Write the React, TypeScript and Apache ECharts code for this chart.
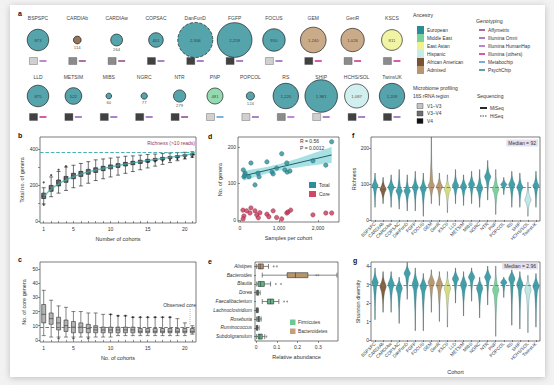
import React, { useEffect, useRef } from 'react';
import * as echarts from 'echarts';

const FONT = '"Liberation Sans", Arial, sans-serif';

// ---------- Panel a ----------
const row1Cohorts = ['BSPSPC', 'CARDIAb', 'CARDIAw', 'COPSAC', 'DanFunD', 'FGFP', 'FOCUS', 'GEM', 'GenR', 'KSCS'];
const row1N = [873, 114, 264, 401, 2306, 2259, 950, 1240, 1026, 811];
const row1Anc = [0, 4, 0, 0, 0, 0, 0, 5, 5, 2];
const row1Region = [0, 1, 1, 2, 2, 2, 0, 2, 1, 1];
const row1Geno = [2, 0, 0, 1, 1, 1, 1, 3, 3, 3];
const row1Seq = [0, 0, 0, 0, 1, 0, 0, 0, 0, 0];

const row2Cohorts = ['LLD', 'METSIM', 'MIBS', 'NGRC', 'NTR', 'PNP', 'POPCOL', 'RS', 'SHIP', 'HCHS/SOL', 'TwinsUK'];
const row2N = [875, 522, 60, 77, 279, 481, 124, 1220, 1981, 1087, 1209];
const row2Anc = [0, 0, 0, 0, 0, 1, 0, 0, 0, 3, 0];
const row2Region = [2, 2, 2, 2, 2, 0, 0, 1, 0, 2, 2];
const row2Geno = [3, 1, 1, 1, 0, 4, 1, 2, 1, 1, 1];
const row2Seq = [0, 0, 0, 0, 0, 0, 0, 0, 0, 0, 0];

const ancestryNames = ['European', 'Middle East', 'East Asian', 'Hispanic', 'African American', 'Admixed'];
const ancestryColors = ['#2a8c96', '#79d19c', '#eef28c', '#c6ebea', '#7a5332', '#bb956b'];
const genoNames = ['Affymetrix', 'Illumina Omni', 'Illumina HumanHap', 'Illumina (others)', 'Metabochip', 'PsychChip'];
const genoColors = ['#8d3a7e', '#8b52b5', '#a65dc4', '#c81e8c', '#4b93cc', '#2f7f8c'];
const regionNames = ['V1–V3', 'V3–V4', 'V4'];
const regionColors = ['#c4c4c4', '#6e6e6e', '#111111'];
const seqNames = ['MiSeq', 'HiSeq'];

// ---------- Panel b ----------
const bCats = ['1', '2', '3', '4', '5', '6', '7', '8', '9', '10', '11', '12', '13', '14', '15', '16', '17', '18', '19', '20', '21'];
const bBoxes = [
  [95, 125, 138, 155, 185], [135, 165, 180, 198, 245], [155, 195, 210, 228, 275], [170, 215, 232, 248, 300],
  [185, 235, 250, 265, 310], [195, 248, 262, 276, 320], [210, 260, 273, 287, 330], [225, 270, 283, 296, 340],
  [235, 280, 292, 304, 345], [245, 290, 301, 312, 350], [255, 298, 309, 319, 355], [265, 306, 316, 326, 360],
  [275, 313, 322, 332, 362], [285, 320, 329, 338, 366], [295, 327, 335, 343, 370], [305, 334, 341, 348, 372],
  [315, 340, 347, 354, 375], [325, 347, 353, 359, 378], [335, 353, 358, 364, 380], [345, 360, 364, 369, 382],
  [355, 366, 370, 374, 385],
];
const bOutliers = [[0, 215], [0, 90], [1, 255], [2, 285], [3, 305], [14, 328], [15, 332], [16, 336], [17, 340], [18, 345], [19, 350], [20, 356]];
const bCurve = [135, 178, 207, 229, 247, 261, 273, 283, 292, 301, 309, 316, 323, 330, 336, 342, 348, 354, 360, 366, 372];
const bBandHalf = [9, 8, 7, 6, 6, 5, 5, 5, 5, 5, 4, 4, 4, 4, 4, 4, 4, 4, 4, 4, 4];
const bRichness = 385;

// ---------- Panel c ----------
const cBoxes = [
  [3, 12, 18, 25, 35], [2, 11, 15, 19, 28], [2, 7, 12, 16, 24], [2, 6, 10, 14, 23], [2, 5, 9, 13, 20],
  [2, 5, 9, 12, 20], [2, 5, 8, 11, 19], [2, 5, 7, 10, 19], [2, 5, 7, 9, 18], [2, 5, 7, 9, 18],
  [3, 5, 7, 9, 17], [3, 5, 7, 9, 17], [3, 5, 7, 9, 16], [3, 5, 6, 8, 16], [3, 5, 6, 8, 16],
  [3, 5, 6, 8, 16], [3, 5, 6, 8, 16], [3, 5, 6, 8, 16], [3, 5, 6, 8, 15], [3, 5, 6, 8, 12], [4, 5, 6, 8, 10],
];
const cOutliers = [[9, 18], [10, 17], [11, 17], [12, 16], [13, 16], [14, 16], [15, 16], [16, 16], [17, 16], [2, 1], [4, 1], [6, 1]];
const cObserved = 9;

// ---------- Panel d ----------
const dSamples = [85, 130, 100, 230, 280, 385, 460, 490, 690, 820, 850, 940, 1070, 1150, 1200, 1210, 1280, 1870, 2200, 2350, 120];
const dTotal = [137, 128, 118, 118, 156, 96, 128, 118, 159, 131, 126, 142, 181, 137, 156, 131, 134, 162, 150, 214, 122];
const dCoreSamples = [75, 100, 80, 170, 255, 280, 385, 430, 510, 470, 690, 740, 850, 940, 1070, 1200, 1230, 1300, 1870, 2200, 2350];
const dCore = [27, 11, 3, 25, 19, 33, 25, 14, 20, 6, 16, 9, 25, 7, 3, 19, 22, 27, 14, 19, 19];

// ---------- Panel e ----------
const eGenera = ['Alistipes', 'Bacteroides', 'Blautia', 'Dorea', 'Faecalibacterium', 'Lachnoclostridium', 'Roseburia', 'Ruminococcus', 'Subdoligranulum'];
const ePhylum = [1, 1, 0, 0, 0, 0, 0, 0, 0];
const eBoxes = [
  [0.002, 0.01, 0.02, 0.035, 0.06], [0.03, 0.15, 0.19, 0.25, 0.39], [0.003, 0.01, 0.022, 0.04, 0.07],
  [0.001, 0.004, 0.008, 0.012, 0.02], [0.03, 0.055, 0.07, 0.085, 0.11], [0.001, 0.003, 0.005, 0.008, 0.012],
  [0.002, 0.008, 0.012, 0.018, 0.025], [0.001, 0.003, 0.005, 0.008, 0.015], [0.002, 0.01, 0.018, 0.03, 0.042],
];
const eOutliers = [[0.085, 0], [0.1, 0], [0.29, 1], [0.3, 1], [0.095, 2], [0.12, 2], [0.135, 4], [0.15, 4], [0.05, 8]];
const phylumNames = ['Firmicutes', 'Bacteroidetes'];
const phylumColors = ['#6cc893', '#c4a07a'];
const eBoxColors = ['#5bb986', '#b8946c'];

// ---------- Panels f, g ----------
const cohorts = [...row1Cohorts, ...row2Cohorts];
const cohortAnc = [...row1Anc, ...row2Anc];
const richMin = [35, 45, 35, 30, 25, 25, 10, 45, 40, 20, 45, 40, 45, 35, 55, 15, 70, 35, 35, 10, 35];
const richQ1 = [85, 75, 80, 70, 70, 80, 76, 84, 82, 74, 85, 82, 88, 76, 108, 72, 92, 86, 80, 45, 85];
const richMed = [95, 85, 90, 80, 80, 90, 88, 95, 92, 85, 95, 92, 98, 88, 120, 85, 98, 98, 90, 55, 95];
const richQ3 = [104, 95, 100, 90, 90, 100, 98, 105, 102, 96, 105, 102, 108, 100, 130, 98, 104, 108, 100, 68, 104];
const richMax = [130, 118, 125, 140, 125, 135, 130, 230, 130, 125, 140, 125, 135, 140, 165, 140, 118, 135, 130, 105, 135];
const richMedian = 92;

const shanMin = [1.1, 1.5, 1.5, 0.9, 2.2, 0.5, 0.5, 1.5, 1.0, 0.7, 2.0, 1.3, 2.1, 1.2, 1.9, 0.2, 2.3, 0.8, 0.6, 0.4, 0.7];
const shanQ1 = [2.85, 2.6, 2.75, 2.5, 3.4, 2.7, 2.6, 2.85, 2.7, 2.5, 3.1, 2.7, 3.2, 2.5, 3.2, 2.4, 3.0, 3.05, 2.7, 2.4, 2.65];
const shanMed = [3.1, 2.9, 3.0, 2.8, 3.6, 3.0, 2.9, 3.1, 3.0, 2.8, 3.3, 3.0, 3.4, 2.8, 3.4, 2.7, 3.1, 3.3, 3.0, 2.7, 2.9];
const shanQ3 = [3.35, 3.15, 3.25, 3.05, 3.8, 3.3, 3.15, 3.35, 3.25, 3.05, 3.5, 3.25, 3.6, 3.05, 3.6, 3.0, 3.25, 3.55, 3.25, 3.0, 3.15];
const shanMax = [3.9, 3.7, 3.7, 3.4, 4.2, 3.9, 3.6, 3.8, 3.7, 3.7, 3.9, 3.7, 3.9, 3.4, 4.0, 4.0, 3.4, 3.8, 3.7, 3.5, 3.6];
const shanMedian = 2.96;

const violinFill = ['#3a9ca6', '#79d19c', '#d8dc7c', '#bfe6e6', '#7d5a3a', '#b8956b'];

function buildOption() {
  const tick = { show: true, length: 2, lineStyle: { color: '#444', width: 0.6 } };
  const lab = { fontSize: 5, color: '#333', margin: 2, fontFamily: FONT };
  const nameTS = { fontSize: 5.5, color: '#333', fontFamily: FONT };
  const frame = (left: number, top: number, width: number, height: number) => ({
    left, top, width, height, show: true, borderColor: '#444', borderWidth: 0.7, backgroundColor: 'transparent',
  });

  const grids = [
    { left: 18.3, top: 40, width: 393.3, height: 21, show: false },
    { left: 20.3, top: 96, width: 389.4, height: 21, show: false },
    frame(40, 137, 156, 86),
    frame(40, 262, 156, 80),
    frame(238, 137, 101, 85),
    frame(255, 262, 83, 79),
    frame(371, 137, 169, 84),
    frame(371, 262, 169, 79),
  ];

  const catX = (gi: number, data: string[], extra: any = {}) => ({
    type: 'category', gridIndex: gi, data, boundaryGap: true,
    axisLine: { show: false }, splitLine: { show: false },
    axisTick: { ...tick, alignWithLabel: true, interval: 0 },
    axisLabel: { ...lab, margin: 3 },
    ...extra,
  });
  const valAxis = (gi: number, min: number, max: number, labels: number[], ticks: number[], extra: any = {}) => ({
    type: 'value', gridIndex: gi, min, max,
    axisLine: { show: false }, splitLine: { show: false },
    axisTick: { ...tick, customValues: ticks },
    axisLabel: { ...lab, customValues: labels },
    ...extra,
  });

  const xAxes: any[] = [
    { type: 'category', gridIndex: 0, data: row1Cohorts, position: 'top', axisLine: { show: false }, axisTick: { show: false }, axisLabel: { fontSize: 5, color: '#444', margin: 20, interval: 0 } },
    { type: 'category', gridIndex: 1, data: row2Cohorts, position: 'top', axisLine: { show: false }, axisTick: { show: false }, axisLabel: { fontSize: 5, color: '#444', margin: 17, interval: 0 } },
    catX(2, bCats, { axisLabel: { ...lab, margin: 3, interval: (i: number) => i === 0 || (i + 1) % 5 === 0 }, name: 'Number of cohorts', nameLocation: 'middle', nameGap: 13, nameTextStyle: nameTS }),
    catX(3, bCats, { axisLabel: { ...lab, margin: 3, interval: (i: number) => i === 0 || (i + 1) % 5 === 0 }, name: 'No. of cohorts', nameLocation: 'middle', nameGap: 13, nameTextStyle: nameTS }),
    valAxis(4, -51, 2538, [0, 1000, 2000], [0, 1000, 2000], { axisLabel: { ...lab, margin: 3, customValues: [0, 1000, 2000], formatter: (v: number) => v.toLocaleString('en-US') }, name: 'Samples per cohort', nameLocation: 'middle', nameGap: 13, nameTextStyle: nameTS }),
    valAxis(5, -0.005, 0.395, [0, 0.1, 0.2, 0.3], [0, 0.1, 0.2, 0.3], { axisLabel: { ...lab, margin: 3, customValues: [0, 0.1, 0.2, 0.3] }, name: 'Relative abundance', nameLocation: 'middle', nameGap: 13, nameTextStyle: nameTS }),
    catX(6, cohorts, { axisLabel: { ...lab, fontSize: 4.6, rotate: 45, interval: 0, margin: 2 } }),
    catX(7, cohorts, { axisLabel: { ...lab, fontSize: 4.6, rotate: 45, interval: 0, margin: 2 }, name: 'Cohort', nameLocation: 'middle', nameGap: 28, nameTextStyle: nameTS }),
  ];
  const yAxes: any[] = [
    { type: 'value', gridIndex: 0, min: 0, max: 1, show: false },
    { type: 'value', gridIndex: 1, min: 0, max: 1, show: false },
    valAxis(2, -11, 467, [0, 200, 400], [0, 100, 200, 300, 400], { name: 'Total no. of genera', nameLocation: 'middle', nameGap: 15, nameTextStyle: nameTS }),
    valAxis(3, -1.5, 55, [0, 10, 20, 30, 40, 50], [0, 10, 20, 30, 40, 50], { name: 'No. of core genera', nameLocation: 'middle', nameGap: 13, nameTextStyle: nameTS }),
    valAxis(4, -5.5, 227, [0, 100, 200], [0, 100, 200], { name: 'No. of genera', nameLocation: 'middle', nameGap: 15, nameTextStyle: nameTS }),
    { type: 'category', gridIndex: 5, data: eGenera, inverse: true, axisLine: { show: false }, axisTick: { ...tick, alignWithLabel: true, interval: 0 }, axisLabel: { ...lab, fontStyle: 'italic', fontSize: 4.8, margin: 3, interval: 0 } },
    valAxis(6, -3, 230, [0, 100, 200], [0, 100, 200], { name: 'Richness', nameLocation: 'middle', nameGap: 14, nameTextStyle: nameTS }),
    valAxis(7, -0.05, 4.22, [0, 1, 2, 3, 4], [0, 1, 2, 3, 4], { name: 'Shannon diversity', nameLocation: 'middle', nameGap: 10, nameTextStyle: nameTS }),
  ];

  const series: any[] = [];

  // Panel a circles and icons
  const rows = [
    { gi: 0, names: row1Cohorts, n: row1N, anc: row1Anc, reg: row1Region, geno: row1Geno, seq: row1Seq },
    { gi: 1, names: row2Cohorts, n: row2N, anc: row2Anc, reg: row2Region, geno: row2Geno, seq: row2Seq },
  ];
  rows.forEach((r) => {
    series.push({
      type: 'scatter', xAxisIndex: r.gi, yAxisIndex: r.gi, clip: false, z: 3,
      data: r.n.map((n, i) => ({
        value: [i, 1], n,
        symbolSize: 0.73 * Math.sqrt(n),
        itemStyle: { color: ancestryColors[r.anc[i]], borderColor: '#111', borderWidth: 0.8, borderType: r.seq[i] === 1 ? 'dashed' : 'solid' },
        label: { show: true, position: n < 350 ? 'bottom' : 'inside', distance: 1, fontSize: 4.3, color: '#222', formatter: () => n.toLocaleString('en-US') },
      })),
    });
    series.push({
      type: 'scatter', xAxisIndex: r.gi, yAxisIndex: r.gi, clip: false, symbol: 'rect', symbolSize: [8, 7], symbolOffset: [-4.5, 0],
      data: r.reg.map((g, i) => ({ value: [i, 0], itemStyle: { color: regionColors[g], borderColor: '#333', borderWidth: 0.4 } })),
    });
    series.push({
      type: 'scatter', xAxisIndex: r.gi, yAxisIndex: r.gi, clip: false, symbol: 'rect', symbolSize: [7, 1.8], symbolOffset: [5, 0],
      data: r.geno.map((g, i) => ({ value: [i, 0], itemStyle: { color: genoColors[g] } })),
    });
  });

  // Panel b
  series.push({
    type: 'boxplot', xAxisIndex: 2, yAxisIndex: 2, data: bBoxes, boxWidth: [4, 5.5],
    itemStyle: { color: '#666666', borderColor: '#111', borderWidth: 0.6 },
  });
  series.push({
    type: 'scatter', xAxisIndex: 2, yAxisIndex: 2, data: bOutliers, symbolSize: 2.2,
    itemStyle: { color: '#222' },
  });
  series.push({
    type: 'line', xAxisIndex: 2, yAxisIndex: 2, stack: 'bband', symbol: 'none', z: 4,
    data: bCurve.map((v, i) => v - bBandHalf[i]), lineStyle: { opacity: 0 },
  });
  series.push({
    type: 'line', xAxisIndex: 2, yAxisIndex: 2, stack: 'bband', symbol: 'none', z: 4,
    data: bBandHalf.map((h) => 2 * h), lineStyle: { opacity: 0 }, areaStyle: { color: 'rgba(110,205,205,0.5)' },
  });
  series.push({
    type: 'line', xAxisIndex: 2, yAxisIndex: 2, symbol: 'none', z: 5, data: bCurve,
    lineStyle: { color: '#37a6aa', width: 0.8 },
    markLine: { silent: true, symbol: 'none', label: { show: false }, lineStyle: { type: 'dashed', color: '#3aa9ab', width: 0.9 }, data: [{ yAxis: bRichness }] },
  });

  // Panel c
  series.push({
    type: 'boxplot', xAxisIndex: 3, yAxisIndex: 3, data: cBoxes, boxWidth: [4, 5.5],
    itemStyle: { color: '#b3b3b3', borderColor: '#333', borderWidth: 0.6 },
    markLine: { silent: true, symbol: 'none', label: { show: false }, lineStyle: { type: 'dashed', color: '#d6336c', width: 0.9 }, data: [{ yAxis: cObserved }] },
  });
  series.push({
    type: 'scatter', xAxisIndex: 3, yAxisIndex: 3, data: cOutliers, symbolSize: 2.2, itemStyle: { color: '#222' },
  });

  // Panel d regression
  const n = dSamples.length;
  const mx = dSamples.reduce((a, b) => a + b, 0) / n;
  const my = dTotal.reduce((a, b) => a + b, 0) / n;
  let sxx = 0, sxy = 0;
  for (let i = 0; i < n; i++) { sxx += (dSamples[i] - mx) ** 2; sxy += (dSamples[i] - mx) * (dTotal[i] - my); }
  const slope = sxy / sxx, icpt = my - slope * mx;
  let sse = 0;
  for (let i = 0; i < n; i++) sse += (dTotal[i] - icpt - slope * dSamples[i]) ** 2;
  const s = Math.sqrt(sse / (n - 2));
  const xlo = Math.min(...dSamples), xhi = Math.max(...dSamples);
  const fit = (x: number) => icpt + slope * x;
  const ci = (x: number) => 2.09 * s * Math.sqrt(1 / n + (x - mx) ** 2 / sxx);
  series.push({
    type: 'custom', xAxisIndex: 4, yAxisIndex: 4, data: [[xlo, fit(xlo)]], z: 2,
    renderItem: (_p: any, api: any) => {
      const steps = 30;
      const up: number[][] = [], lo: number[][] = [];
      for (let k = 0; k <= steps; k++) {
        const x = xlo + (xhi - xlo) * k / steps;
        up.push(api.coord([x, fit(x) + ci(x)]));
        lo.push(api.coord([x, fit(x) - ci(x)]));
      }
      return { type: 'polygon', shape: { points: up.concat(lo.reverse()) }, style: { fill: 'rgba(110,205,210,0.6)' } };
    },
  });
  series.push({
    type: 'line', xAxisIndex: 4, yAxisIndex: 4, symbol: 'none', z: 3,
    data: [[xlo, fit(xlo)], [xhi, fit(xhi)]], lineStyle: { color: '#1f5f66', width: 1 },
  });
  series.push({
    type: 'scatter', xAxisIndex: 4, yAxisIndex: 4, name: 'Total', z: 4, symbolSize: 4.5,
    data: dSamples.map((x, i) => [x, dTotal[i]]), itemStyle: { color: '#2e8f99', borderColor: '#1d5f66', borderWidth: 0.4 },
  });
  series.push({
    type: 'scatter', xAxisIndex: 4, yAxisIndex: 4, name: 'Core', z: 4, symbolSize: 4.5,
    data: dCoreSamples.map((x, i) => [x, dCore[i]]), itemStyle: { color: '#c8385a', borderColor: '#7e1f37', borderWidth: 0.4 },
  });

  // Panel e
  series.push({
    type: 'boxplot', xAxisIndex: 5, yAxisIndex: 5, boxWidth: [4, 5],
    data: eBoxes.map((b, i) => ({ value: b, itemStyle: { color: eBoxColors[ePhylum[i]], borderColor: '#333', borderWidth: 0.6 } })),
  });
  series.push({
    type: 'scatter', xAxisIndex: 5, yAxisIndex: 5, data: eOutliers, symbolSize: 1.8, itemStyle: { color: '#777' },
  });

  // Violins
  const violin = (_p: any, api: any) => {
    const i = api.value(0);
    const lv = [api.value(1), 0, api.value(2), api.value(3), api.value(4), 0, api.value(5)];
    lv[1] = lv[0] + (lv[2] - lv[0]) * 0.5;
    lv[5] = lv[4] + (lv[6] - lv[4]) * 0.5;
    const anc = api.value(6);
    const bw = api.size([1, 0])[0];
    const hw = bw * 0.4;
    const fr = [0.03, 0.12, 0.5, 1, 0.5, 0.12, 0.03];
    const cx = api.coord([i, lv[3]])[0];
    const ys = lv.map((v) => api.coord([i, v])[1]);
    const right = ys.map((y, k) => [cx + hw * fr[k], y]);
    const left = ys.map((y, k) => [cx - hw * fr[k], y]).reverse();
    const fill = violinFill[anc];
    return {
      type: 'group',
      children: [
        { type: 'line', shape: { x1: cx, y1: ys[0], x2: cx, y2: ys[6] }, style: { stroke: '#666', lineWidth: 0.6, opacity: 0.85 } },
        { type: 'polygon', shape: { points: right.concat(left), smooth: 0.25 }, style: { fill, stroke: 'rgba(20,60,60,0.55)', lineWidth: 0.4, opacity: 0.95 } },
      ],
    };
  };
  series.push({
    type: 'custom', xAxisIndex: 6, yAxisIndex: 6, renderItem: violin, encode: { x: 0, y: [1, 5] },
    data: cohorts.map((_c, i) => [i, richMin[i], richQ1[i], richMed[i], richQ3[i], richMax[i], cohortAnc[i]]),
  });
  series.push({
    type: 'line', xAxisIndex: 6, yAxisIndex: 6, data: [], symbol: 'none',
    markLine: { silent: true, symbol: 'none', label: { show: false }, lineStyle: { type: 'dashed', color: '#e0446f', width: 0.9 }, data: [{ yAxis: richMedian }] },
  });
  series.push({
    type: 'custom', xAxisIndex: 7, yAxisIndex: 7, renderItem: violin, encode: { x: 0, y: [1, 5] },
    data: cohorts.map((_c, i) => [i, shanMin[i], shanQ1[i], shanMed[i], shanQ3[i], shanMax[i], cohortAnc[i]]),
  });
  series.push({
    type: 'line', xAxisIndex: 7, yAxisIndex: 7, data: [], symbol: 'none',
    markLine: { silent: true, symbol: 'none', label: { show: false }, lineStyle: { type: 'dashed', color: '#e0446f', width: 0.9 }, data: [{ yAxis: shanMedian }] },
  });

  // Graphics: card, letters, legends, annotations
  const txt = (text: string, x: number, y: number, o: any = {}) => ({
    type: 'text', x, y, z: 100,
    style: {
      text, fontSize: o.fontSize ?? 5, fill: o.fill ?? '#333', fontFamily: FONT, fontWeight: o.fontWeight ?? 'normal',
      align: o.align ?? 'left', textAlign: o.align ?? 'left', verticalAlign: 'middle', textVerticalAlign: 'middle',
      backgroundColor: o.bg, padding: o.padding,
    },
  });
  const g: any[] = [];
  g.push({ type: 'rect', z: -10, shape: { x: 10, y: 5, width: 535, height: 372 }, style: { fill: '#ffffff', shadowBlur: 6, shadowColor: 'rgba(0,0,0,0.22)', shadowOffsetY: 1 } });
  [['a', 18, 13], ['b', 18, 135], ['c', 18, 259], ['d', 208, 136], ['e', 208, 261], ['f', 352, 135], ['g', 353, 260]].forEach(([t, x, y]) => {
    g.push(txt(t as string, x as number, y as number, { fontSize: 7, fontWeight: 'bold', fill: '#111' }));
  });
  g.push(txt('Ancestry', 413, 15, { fontSize: 5.2 }));
  ancestryNames.forEach((nm, k) => {
    g.push({ type: 'rect', z: 100, shape: { x: 417, y: 26 + 8 * k, width: 7, height: 8 }, style: { fill: ancestryColors[k] } });
    g.push(txt(nm, 427, 30 + 8 * k, { fontSize: 4.8 }));
  });
  g.push(txt('Genotyping', 476, 21, { fontSize: 5.2 }));
  genoNames.forEach((nm, k) => {
    g.push({ type: 'line', z: 100, shape: { x1: 479, y1: 30 + 8 * k, x2: 485, y2: 30 + 8 * k }, style: { stroke: genoColors[k], lineWidth: 1.5 } });
    g.push(txt(nm, 488, 30 + 8 * k, { fontSize: 4.8 }));
  });
  g.push(txt('Microbiome profiling', 413, 88, { fontSize: 5 }));
  g.push(txt('16S rRNA region', 413, 96, { fontSize: 4.8 }));
  regionNames.forEach((nm, k) => {
    g.push({ type: 'rect', z: 100, shape: { x: 417, y: 103.5 + 7.5 * k, width: 6, height: 5 }, style: { fill: regionColors[k], stroke: '#333', lineWidth: 0.4 } });
    g.push(txt(nm, 427, 106 + 7.5 * k, { fontSize: 4.8 }));
  });
  g.push(txt('Sequencing', 477, 96, { fontSize: 5 }));
  seqNames.forEach((nm, k) => {
    g.push({ type: 'line', z: 100, shape: { x1: 480, y1: 108 + 8 * k, x2: 487, y2: 108 + 8 * k }, style: { stroke: '#111', lineWidth: k === 0 ? 1.8 : 0.8, lineDash: k === 0 ? null : [1.5, 1] } });
    g.push(txt(nm, 490, 108 + 8 * k, { fontSize: 4.8 }));
  });
  g.push(txt('Richness (>10 reads)', 195, 143, { fontSize: 5, fill: '#9c2f5a', align: 'right' }));
  g.push(txt('Observed core', 196, 305, { fontSize: 5, align: 'right' }));
  g.push({ type: 'line', z: 100, shape: { x1: 190, y1: 309, x2: 190, y2: 324 }, style: { stroke: '#777', lineWidth: 0.5, lineDash: [1, 1] } });
  g.push(txt('R = 0.56', 300, 141, { fontSize: 5 }));
  g.push(txt('P = 0.0012', 300, 148, { fontSize: 5 }));
  g.push({ type: 'rect', z: 100, shape: { x: 309, y: 182, width: 7, height: 6 }, style: { fill: '#2e8f99' } });
  g.push(txt('Total', 319, 185, { fontSize: 5 }));
  g.push({ type: 'rect', z: 100, shape: { x: 309, y: 191, width: 7, height: 6 }, style: { fill: '#d0476a' } });
  g.push(txt('Core', 319, 194, { fontSize: 5 }));
  phylumNames.forEach((nm, k) => {
    g.push({ type: 'rect', z: 100, shape: { x: 290, y: 319.5 + 9 * k, width: 5.5, height: 5.5 }, style: { fill: phylumColors[k] } });
    g.push(txt(nm, 298, 322 + 9 * k, { fontSize: 4.8 }));
  });
  g.push(txt('Median = 92', 538, 143, { fontSize: 5, align: 'right', bg: '#e4e0ef', padding: [1, 2] }));
  g.push(txt('Median = 2.96', 538, 266, { fontSize: 5, align: 'right', bg: '#e4e0ef', padding: [1, 2] }));

  return {
    animation: false,
    backgroundColor: '#f2f2f2',
    textStyle: { fontFamily: FONT },
    grid: grids,
    xAxis: xAxes,
    yAxis: yAxes,
    series,
    graphic: { elements: g },
  };
}

export default function App() {
  const ref = useRef<HTMLDivElement>(null);
  useEffect(() => {
    document.body.style.margin = '0';
    if (!ref.current) return;
    const chart = echarts.init(ref.current, undefined, { renderer: 'svg' });
    chart.setOption(buildOption() as any);
    return () => chart.dispose();
  }, []);
  return <div ref={ref} style={{ width: 554, height: 385 }} />;
}
